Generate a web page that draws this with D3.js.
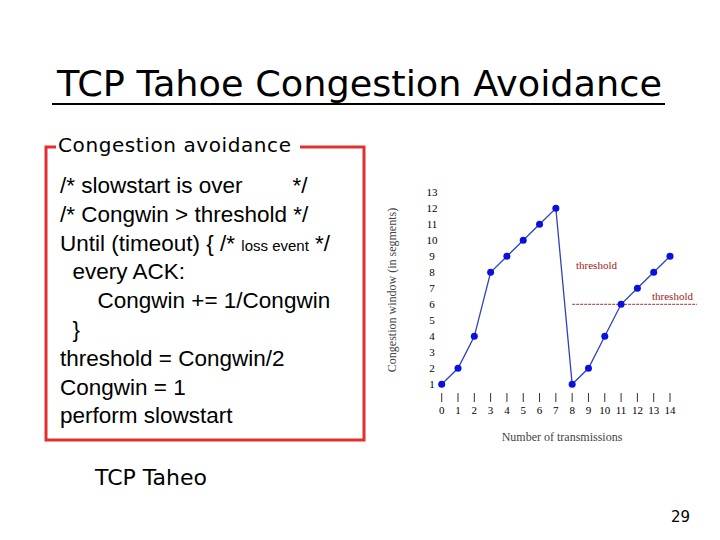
<!DOCTYPE html>
<html><head><meta charset="utf-8">
<script src="https://cdn.jsdelivr.net/npm/d3@7"></script>
<style>body{margin:0;background:#fff}</style>
</head><body>
<svg id="c" width="720" height="540"></svg>
<script>
var rounds = [0,1,2,3,4,5,6,7,8,9,10,11,12,13,14];
var congwin = [1,2,4,8,9,10,11,12,1,2,4,6,7,8,9];
var yTicks = [1,2,3,4,5,6,7,8,9,10,11,12,13];
var threshold = 6;
var codeLines = [
  "/* slowstart is over        */",
  "/* Congwin > threshold */",
  "Until (timeout) { /* ",
  "  every ACK:",
  "      Congwin += 1/Congwin",
  "  }",
  "threshold = Congwin/2",
  "Congwin = 1",
  "perform slowstart"
];

var svg = d3.select('#c');
var font = "DejaVu Sans, sans-serif";

// title
svg.append('text').attr('x', 57).attr('y', 96)
  .attr('textLength', 605).attr('lengthAdjust', 'spacingAndGlyphs')
  .style('font', '35px ' + font).style('fill', '#000').text('TCP Tahoe Congestion Avoidance');
svg.append('line').attr('x1', 52).attr('x2', 665).attr('y1', 104).attr('y2', 104)
  .attr('stroke', '#000').attr('stroke-width', 2);

// code box
svg.append('path').attr('d', 'M56,147 L46,147 L46,440 L364,440 L364,147 L300,147')
  .attr('fill', 'none').attr('stroke', '#e03030').attr('stroke-width', 3);
svg.append('text').attr('x', 58).attr('y', 152).attr('textLength', 233)
  .style('font', '20px ' + font).text('Congestion avoidance');

var code = svg.append('g').style('font', '22.5px Liberation Sans, Arial, sans-serif');
codeLines.forEach(function(t, i) {
  var tx = code.append('text').attr('x', 60).attr('y', 193 + i * 28.8).attr('xml:space', 'preserve').text(t);
  if (i == 2) {
    tx.append('tspan').style('font-size', '15px').text('loss event');
    tx.append('tspan').text(' */');
  }
});

svg.append('text').attr('x', 95).attr('y', 485).style('font', '22px ' + font).text('TCP Taheo');
svg.append('text').attr('x', 690).attr('y', 522).attr('text-anchor', 'end').style('font', '15px ' + font).text('29');

// chart
var x = d3.scaleLinear().domain([0, 14]).range([441.7, 670]);
var y = d3.scaleLinear().domain([1, 13]).range([384.3, 192.3]);
var serif = "Liberation Serif, serif";
var g = svg.append('g');

g.selectAll('.yt').data(yTicks).enter().append('text')
  .attr('x', 432).attr('y', function(d) { return y(d) + 4; }).attr('text-anchor', 'middle')
  .style('font', '11px ' + serif).text(function(d) { return d; });

g.selectAll('.xtk').data(rounds).enter().append('line')
  .attr('x1', function(d) { return x(d); }).attr('x2', function(d) { return x(d); })
  .attr('y1', 393).attr('y2', 402).attr('stroke', '#333');
g.selectAll('.xt').data(rounds).enter().append('text')
  .attr('x', function(d) { return x(d); }).attr('y', 414).attr('text-anchor', 'middle')
  .style('font', '11px ' + serif).text(function(d) { return d; });

g.append('text').attr('x', 562).attr('y', 441).attr('text-anchor', 'middle')
  .style('font', '12px ' + serif).style('fill', '#444').text('Number of transmissions');
g.append('text').attr('transform', 'translate(396,290) rotate(-90)').attr('text-anchor', 'middle')
  .style('font', '12px ' + serif).style('fill', '#444').text('Congestion window (in segments)');

g.append('line').attr('x1', x(8)).attr('x2', 697).attr('y1', y(threshold)).attr('y2', y(threshold))
  .attr('stroke', '#b03030').attr('stroke-dasharray', '3,1');
g.append('text').attr('x', 576).attr('y', 269).style('font', '11px ' + serif).style('fill', '#a02020').text('threshold');
g.append('text').attr('x', 652).attr('y', 300).style('font', '11px ' + serif).style('fill', '#a02020').text('threshold');

var pts = rounds.map(function(r, i) { return [r, congwin[i]]; });
g.append('path').datum(pts)
  .attr('d', d3.line().x(function(d) { return x(d[0]); }).y(function(d) { return y(d[1]); }))
  .attr('fill', 'none').attr('stroke', '#3040c0').attr('stroke-width', 1.3);
g.selectAll('circle').data(pts).enter().append('circle')
  .attr('cx', function(d) { return x(d[0]); }).attr('cy', function(d) { return y(d[1]); })
  .attr('r', 3.5).attr('fill', '#0a10e0');
</script>
</body></html>
